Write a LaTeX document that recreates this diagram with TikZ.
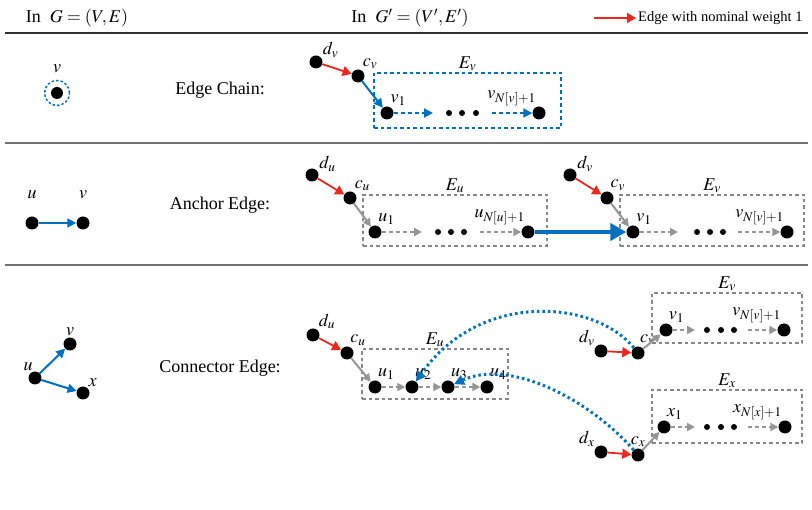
\documentclass[tikz,border=0pt]{standalone}
\usepackage{mathptmx}
\usepackage{fontspec}
\setmainfont{Liberation Serif}
\usetikzlibrary{arrows.meta, positioning}

\definecolor{myblue}{RGB}{0,112,192}
\definecolor{myred}{RGB}{235,40,30}
\definecolor{mygray}{RGB}{150,150,150}

\tikzset{
  dot/.style={circle, fill=black, inner sep=0pt, minimum size=13pt},
  tinydot/.style={circle, fill=black, inner sep=0pt, minimum size=6pt},
  lbl/.style={font=\fontsize{18}{20}\selectfont, inner sep=1pt},
  txt/.style={font=\fontsize{18}{20}\selectfont},
  redarr/.style={-{Triangle[length=9pt,width=10pt]}, myred, line width=1.8pt},
  bluearr/.style={-{Triangle[length=9pt,width=9pt]}, myblue, line width=2pt},
  grayarr/.style={-{Triangle[length=8pt,width=8pt]}, mygray, line width=2pt},
  chainarr/.style={grayarr, dash pattern=on 4pt off 3pt},
  bluechain/.style={bluearr, dash pattern=on 4pt off 3pt},
  ebox/.style={draw=mygray!90!black, dash pattern=on 3.5pt off 3pt, line width=1.4pt, inner sep=0pt},
  linkarr/.style={-{Triangle[length=10pt,width=10pt]}, myblue, line width=3pt, dash pattern=on 2.5pt off 3pt},
}

\begin{document}
\begin{tikzpicture}[x=1pt, y=-1pt]
    \useasboundingbox (0,0) rectangle (812,510);

    % Header
    \node[txt] (hdrG) at (77,18) {In\ \ $G=(V,E)$};
    \node[txt] (hdrGp) at (410,18) {In\ \ $G'=(V',E')$};
    \node[font=\fontsize{14.5}{16}\selectfont, anchor=west, inner sep=2pt] (legtxt) at (636,18) {Edge with nominal weight 1};
    \coordinate (legstart) at (594,18);
    \draw[redarr] (legstart) -- (legtxt.west);
    \draw[line width=2.5pt, black!80] (5,33) -- (808,33);
    \draw[line width=1.8pt, black!55] (5,143) -- (808,143);
    \draw[line width=1.8pt, black!55] (5,265) -- (808,265);

    % Edge chain
    \node[circle, draw=myblue, dash pattern=on 2.5pt off 2pt, line width=1.5pt, minimum size=25pt, inner sep=0pt, label={[lbl, label distance=6pt]90:$v$}] (vring) at (57,93) {};
    \node[dot, minimum size=12pt] (v1s) at (57,93) {};
    \node[txt] (chainlbl) at (220,90) {Edge Chain:};

    \node[ebox, draw=myblue, minimum width=187pt, minimum height=55pt, label={[lbl]above:$E_v$}] (Ev1) at (467.5,100.5) {};
    \node[dot, label={[lbl]32:$d_v$}] (dv1) at (316,62) {};
    \node[dot, label={[lbl]57:$c_v$}] (cv1) at (358,76) {};
    \node[dot, label={[lbl]68:$v_1$}] (va1) at (387,113) {};
    \node[dot, label={[lbl]108:$v_{N[v]+1}$}] (vb1) at (539,113) {};
    \foreach \x [count=\i] in {449,462,476} \node[tinydot] (el1\i) at (\x,113) {};
    \coordinate (ch1a) at (433,113);
    \coordinate (ch1b) at (492,113);

    \draw[redarr] (dv1) -- (cv1);
    \draw[bluearr] (cv1) -- (va1);
    \draw[bluechain] (va1) -- (ch1a);
    \draw[bluechain] (ch1b) -- (vb1);

    % Anchor edge
    \node[dot, label={[lbl, label distance=16pt]90:$u$}] (u2s) at (32,223) {};
    \node[dot, label={[lbl, label distance=16pt]90:$v$}] (v2s) at (83,223) {};
    \draw[bluearr] (u2s) -- (v2s);
    \node[txt] (anchorlbl) at (220,205) {Anchor Edge:};

    \node[ebox, minimum width=184pt, minimum height=51pt, label={[lbl]above:$E_u$}] (Eu2) at (455,220.5) {};
    \node[dot, label={[lbl]22:$d_u$}] (du2) at (312,175) {};
    \node[dot, label={[lbl]58:$c_u$}] (cu2) at (350,198) {};
    \node[dot, label={[lbl]70:$u_1$}] (ua2) at (375,232) {};
    \node[dot, label={[lbl]108:$u_{N[u]+1}$}] (ub2) at (528,232) {};
    \foreach \x [count=\i] in {438,451,464} \node[tinydot] (el2\i) at (\x,232) {};
    \coordinate (ch2a) at (422,232);
    \coordinate (ch2b) at (480,232);

    \node[ebox, minimum width=184pt, minimum height=51pt, label={[lbl]above:$E_v$}] (Ev2) at (712,220.5) {};
    \node[dot, label={[lbl]22:$d_v$}] (dv2) at (570,175) {};
    \node[dot, label={[lbl]68:$c_v$}] (cv2) at (607,198) {};
    \node[dot, label={[lbl]70:$v_1$}] (va2) at (633,232) {};
    \node[dot, label={[lbl]108:$v_{N[v]+1}$}] (vb2) at (787,232) {};
    \foreach \x [count=\i] in {697,710,723} \node[tinydot] (el3\i) at (\x,232) {};
    \coordinate (ch3a) at (678,232);
    \coordinate (ch3b) at (738,232);

    \draw[redarr] (du2) -- (cu2);
    \draw[grayarr] (cu2) -- (ua2);
    \draw[chainarr] (ua2) -- (ch2a);
    \draw[chainarr] (ch2b) -- (ub2);
    \draw[redarr] (dv2) -- (cv2);
    \draw[grayarr] (cv2) -- (va2);
    \draw[chainarr] (va2) -- (ch3a);
    \draw[chainarr] (ch3b) -- (vb2);
    \draw[-{Triangle[length=16pt,width=17pt]}, myblue, line width=4.5pt] (ub2) -- (va2);

    % Connector edge
    \node[dot, label={[lbl]100:$u$}] (u3s) at (35,378) {};
    \node[dot, label={[lbl]90:$v$}] (v3s) at (70,344) {};
    \node[dot, label={[lbl]50:$x$}] (x3s) at (83,393) {};
    \draw[bluearr] (u3s) -- (v3s);
    \draw[bluearr] (u3s) -- (x3s);
    \node[txt] (connlbl) at (220,368) {Connector Edge:};

    \node[ebox, minimum width=146pt, minimum height=50pt, label={[lbl]above:$E_u$}] (Eu3) at (435,374) {};
    \node[dot, label={[lbl]45:$d_u$}] (du3) at (313,335) {};
    \node[dot, label={[lbl]72:$c_u$}] (cu3) at (347,353) {};
    \foreach \x [count=\i] in {375,412,448,487} \node[dot, label={[lbl]73:$u_\i$}] (u\i) at (\x,387) {};

    \node[ebox, minimum width=150pt, minimum height=50pt, label={[lbl]above:$E_v$}] (Ev3) at (727,318) {};
    \node[dot, label={[lbl]141:$d_v$}] (dv3) at (601,351) {};
    \node[dot, label={[lbl]83:$c_v$}] (cv3) at (638,353) {};
    \node[dot, label={[lbl]75:$v_1$}] (va3) at (666,330) {};
    \node[dot, label={[lbl]108:$v_{N[v]+1}$}] (vb3) at (784,330) {};
    \foreach \x [count=\i] in {707,721,734} \node[tinydot] (el4\i) at (\x,330) {};
    \coordinate (ch4a) at (695,330);
    \coordinate (ch4b) at (748,330);

    \node[ebox, minimum width=150pt, minimum height=53pt, label={[lbl]above:$E_x$}] (Ex3) at (727,416.5) {};
    \node[dot, label={[lbl]141:$d_x$}] (dx3) at (601,452) {};
    \node[dot, label={[lbl]90:$c_x$}] (cx3) at (638,455) {};
    \node[dot, label={[lbl]73:$x_1$}] (xa3) at (664,427) {};
    \node[dot, label={[lbl]108:$x_{N[x]+1}$}] (xb3) at (785,427) {};
    \foreach \x [count=\i] in {707,721,734} \node[tinydot] (el5\i) at (\x,427) {};
    \coordinate (ch5a) at (695,427);
    \coordinate (ch5b) at (748,427);

    \draw[redarr] (du3) -- (cu3);
    \draw[grayarr] (cu3) -- (u1);
    \draw[chainarr] (u1) -- (u2);
    \draw[chainarr] (u2) -- (u3);
    \draw[chainarr] (u3) -- (u4);
    \draw[redarr] (dv3) -- (cv3);
    \draw[grayarr] (cv3) -- (va3);
    \draw[chainarr] (va3) -- (ch4a);
    \draw[chainarr] (ch4b) -- (vb3);
    \draw[redarr] (dx3) -- (cx3);
    \draw[grayarr] (cx3) -- (xa3);
    \draw[chainarr] (xa3) -- (ch5a);
    \draw[chainarr] (ch5b) -- (xb3);
    \draw[linkarr] (cv3) .. controls (595,300) and (480,290) .. (u2);
    \draw[linkarr] (cx3) .. controls (590,400) and (510,358) .. (u3);
\end{tikzpicture}
\end{document}
